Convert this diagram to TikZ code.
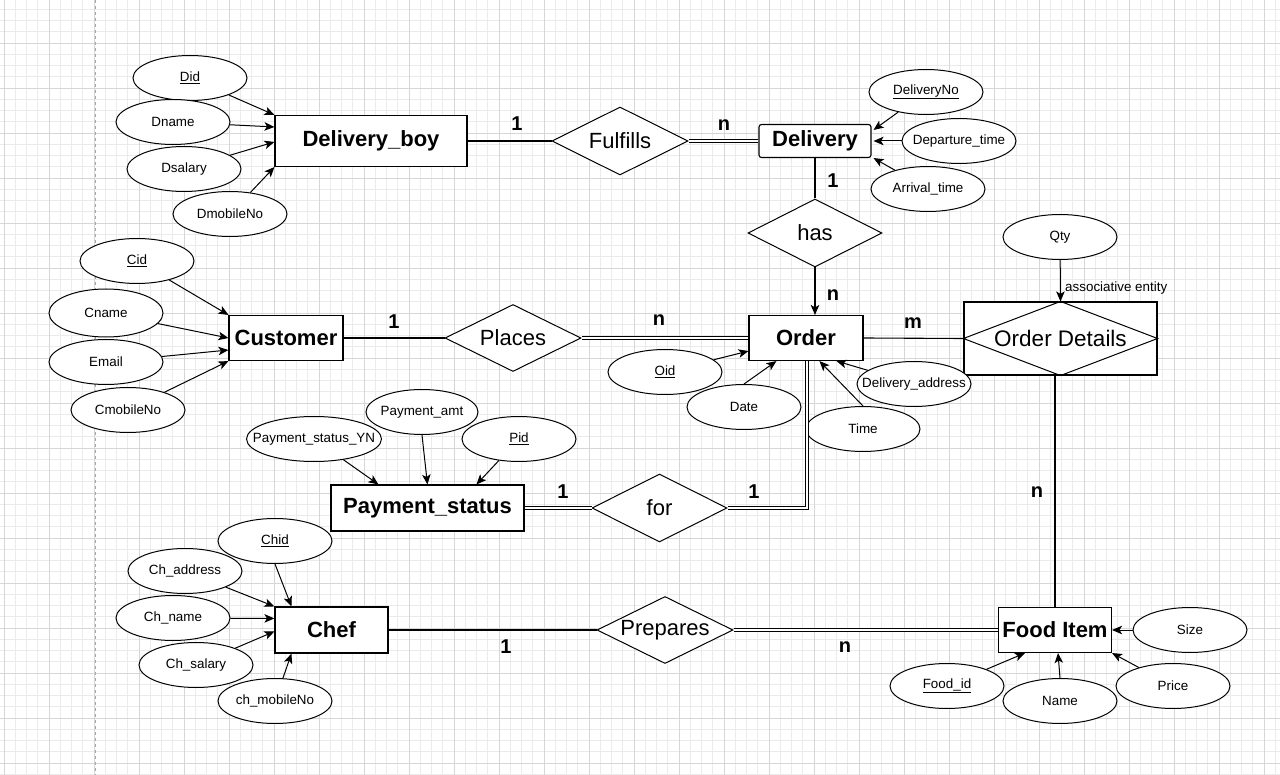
\documentclass[tikz,border=0pt]{standalone}
\usepackage{fontspec}
\setmainfont{Liberation Sans}
\usetikzlibrary{shapes.geometric,arrows.meta}
\definecolor{gridminor}{HTML}{EBEBEB}
\definecolor{gridmajor}{HTML}{D6D6D6}
\tikzset{
 attr/.style={ellipse, draw, fill=white, line width=1pt, inner sep=0pt, minimum width=114pt, minimum height=45pt, font=\fontsize{13.4}{16}\selectfont},
 ent/.style={rectangle, draw, fill=white, line width=1.1pt, inner sep=0pt, font=\fontsize{22}{26}\selectfont\bfseries},
 rel/.style={diamond, draw, fill=white, line width=1pt, inner sep=0pt, minimum width=136pt, minimum height=68pt, font=\fontsize{22}{26}\selectfont},
 card/.style={font=\fontsize{20}{24}\selectfont\bfseries, inner sep=0pt},
 link/.style={line width=1.1pt},
 dbl/.style={double, double distance=2.2pt, line width=0.9pt},
 arr/.style={line width=1pt, -{Stealth[length=10pt,width=8.5pt,inset=2.5pt]}},
}
\begin{document}
\begin{tikzpicture}[x=1pt, y=-1pt]
\useasboundingbox (0,0) rectangle (1280,775);
\fill[white] (0,0) rectangle (1280,775);
% grid
\foreach \i in {0,...,113} \draw[gridminor, line width=0.6pt] ({4+11.25*\i},0) -- ({4+11.25*\i},775);
\foreach \i in {0,...,69} \draw[gridminor, line width=0.6pt] (0,{-2+11.25*\i}) -- (1280,{-2+11.25*\i});
\foreach \i in {0,...,28} \draw[gridmajor, line width=0.8pt] ({4+45*\i},0) -- ({4+45*\i},775);
\foreach \i in {1,...,17} \draw[gridmajor, line width=0.8pt] (0,{-2+45*\i}) -- (1280,{-2+45*\i});
\draw[gray!70, dashed, line width=0.8pt] (95,0) -- (95,775);

% entities
\node[ent, minimum width=192pt, minimum height=51pt] (db) at (371,141) {Delivery\_boy};
\node[ent, rounded corners=2.5pt, minimum width=112pt, minimum height=33pt] (dl) at (815,141) {Delivery};
\node[ent, minimum width=114pt, minimum height=45pt] (cu) at (286,338) {Customer};
\node[ent, minimum width=114pt, minimum height=45pt] (ord) at (806,338) {Order};
\node[ent, minimum width=193pt, minimum height=46pt] (ps) at (427.5,508) {Payment\_status};
\node[ent, minimum width=113pt, minimum height=46pt] (ch) at (331.5,630) {Chef};
\node[ent, minimum width=113pt, minimum height=45pt] (fi) at (1055,630) {\makebox[0pt]{Food Item}};
\node[rectangle, draw, fill=white, line width=1.1pt, inner sep=0pt, minimum width=193pt, minimum height=73pt] (od) at (1060.5,338.5) {};
\draw[line width=1pt] (od.west) -- (od.north) -- (od.east) -- (od.south) -- cycle;
\node[font=\fontsize{22.5}{26}\selectfont, inner sep=0pt] (odt) at (od.center) {Order Details};

% relationships
\node[rel] (ful) at (620,141) {\makebox[0pt]{Fulfills}};
\node[rel, minimum width=134pt] (has) at (815,233) {\makebox[0pt]{has}};
\node[rel, minimum height=67pt] (pl) at (513,338) {\makebox[0pt]{Places}};
\node[rel, minimum width=135pt] (fr) at (659.5,508) {\makebox[0pt]{for}};
\node[rel, minimum height=67pt] (pr) at (665,630) {\makebox[0pt]{Prepares}};

% attributes
\node[attr] (did) at (190,78) {\makebox[0pt]{\underline{Did}}};
\node[attr] (dname) at (173,122) {\makebox[0pt]{Dname}};
\node[attr] (dsal) at (184,169) {\makebox[0pt]{Dsalary}};
\node[attr] (dmob) at (230,214) {\makebox[0pt]{DmobileNo}};
\node[attr] (dno) at (926,92) {\makebox[0pt]{\underline{DeliveryNo}}};
\node[attr] (dep) at (959,141) {\makebox[0pt]{Departure\_time}};
\node[attr] (arrt) at (928,189) {\makebox[0pt]{Arrival\_time}};
\node[attr] (qty) at (1060,237) {\makebox[0pt]{Qty}};
\node[attr] (cid) at (137,261) {\makebox[0pt]{\underline{Cid}}};
\node[attr, minimum height=48pt] (cname) at (106,313) {\makebox[0pt]{Cname}};
\node[attr] (email) at (106,362) {\makebox[0pt]{Email}};
\node[attr] (cmob) at (128,410) {\makebox[0pt]{CmobileNo}};
\node[attr] (oid) at (665,372) {\makebox[0pt]{\underline{Oid}}};
\node[attr] (date) at (744,407) {\makebox[0pt]{Date}};
\node[attr] (time) at (863,429) {\makebox[0pt]{Time}};
\node[attr] (dadd) at (914,384) {\makebox[0pt]{Delivery\_address}};
\node[attr, minimum width=135pt] (psyn) at (314,439) {\makebox[0pt]{Payment\_status\_YN}};
\node[attr, minimum width=112pt] (pamt) at (422,412) {\makebox[0pt]{Payment\_amt}};
\node[attr] (pid) at (519,439) {\makebox[0pt]{\underline{Pid}}};
\node[attr] (chid) at (275,541) {\makebox[0pt]{\underline{Chid}}};
\node[attr] (chaddr) at (185,571) {\makebox[0pt]{Ch\_address}};
\node[attr] (chname) at (173,618) {\makebox[0pt]{Ch\_name}};
\node[attr] (chsal) at (196,665) {\makebox[0pt]{Ch\_salary}};
\node[attr] (chmob) at (275,701) {\makebox[0pt]{ch\_mobileNo}};
\node[attr] (size) at (1190,630) {\makebox[0pt]{Size}};
\node[attr] (fid) at (947,686) {\makebox[0pt]{\underline{Food\_id}}};
\node[attr] (fname) at (1060,701) {\makebox[0pt]{Name}};
\node[attr] (price) at (1173,686) {\makebox[0pt]{Price}};

% attribute arrows
\draw[arr] (did) -- (db.north west);
\draw[arr] (dname) -- ([yshift=-12pt]db.north west);
\draw[arr] (dsal) -- ([yshift=-27pt]db.north west);
\draw[arr] (dmob) -- (db.south west);
\draw[arr] (dno) -- ([xshift=2pt,yshift=-6pt]dl.north east);
\draw[arr] (dep) -- ([xshift=2pt]dl.east);
\draw[arr] (arrt) -- ([xshift=2pt]dl.south east);
\draw[arr] (qty) -- (od.north);
\draw[arr] (cid) -- (cu.north west);
\draw[arr] (cname) -- (cu.west);
\draw[arr] (email) -- ([yshift=-12pt]cu.west);
\draw[arr] (cmob) -- (cu.south west);
\draw[arr] (oid) -- ([yshift=10pt]ord.south west);
\draw[arr] (date.north) -- ([xshift=28pt]ord.south west);
\draw[arr] (time.north) -- ([xshift=71pt]ord.south west);
\draw[arr] (dadd) -- ([xshift=88pt]ord.south west);
\draw[arr] (psyn) -- ([xshift=48pt]ps.north west);
\draw[arr] (pamt.south) -- ([xshift=97pt]ps.north west);
\draw[arr] (pid) -- ([xshift=146pt]ps.north west);
\draw[arr] (chid.south) -- ([xshift=17pt]ch.north west);
\draw[arr] (chaddr) -- (ch.north west);
\draw[arr] (chname) -- ([yshift=-12pt]ch.north west);
\draw[arr] (chsal) -- ([yshift=-25pt]ch.north west);
\draw[arr] (chmob) -- ([xshift=17pt]ch.south west);
\draw[arr] (size) -- (fi.east);
\draw[arr] (fid) -- ([xshift=27pt]fi.south west);
\draw[arr] (fname.north) -- ([xshift=3pt]fi.south);
\draw[arr] (price) -- (fi.south east);

% relationship links
\draw[link] (db.east) -- (ful.west);
\draw[dbl] (ful.east) -- (dl.west);
\draw[link] (dl.south) -- (has.north);
\draw[arr, line width=1.1pt] (has.south) -- (has.south |- ord.north);
\draw[link] (cu.east) -- (pl.west);
\draw[dbl] (pl.east) -- (ord.west);
\draw[link] (ord.east) -- (od.west);
\draw[link] (fi.north) -- (fi.north |- od.south);
\draw[dbl] (ps.east) -- (fr.west);
\draw[dbl] (fr.east) -| ([xshift=1pt]ord.south);
\draw[link] (ch.east) -- (pr.west);
\draw[dbl] (pr.east) -- (fi.west);

% cardinalities
\node[card] (c1) at (517,124) {1};
\node[card] (c2) at (724,125) {n};
\node[card] (c3) at (833,181) {1};
\node[card] (c4) at (833,295) {n};
\node[card] (c5) at (394,322) {1};
\node[card] (c6) at (659,320) {n};
\node[card] (c7) at (913,323) {m};
\node[card] (c8) at (1037,492) {n};
\node[card] (c9) at (563,492) {1};
\node[card] (c10) at (754,492) {1};
\node[card] (c11) at (506,647) {1};
\node[card] (c12) at (845,647) {n};
\node[anchor=west, inner sep=0pt, font=\fontsize{13.4}{16}\selectfont] (assoc) at (1065,288) {associative entity};
\end{tikzpicture}
\end{document}
